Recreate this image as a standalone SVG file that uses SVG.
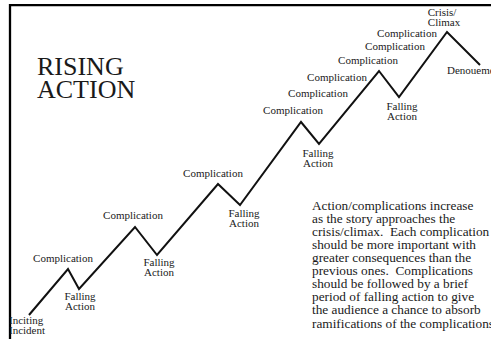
<svg xmlns="http://www.w3.org/2000/svg" width="491" height="339" viewBox="0 0 491 339">
<style>
text{fill:#1a1a1a}
.lbl{font-size:11px;text-anchor:middle}
.title{font-size:26px}
.para{font-size:13.3px}
.frame{stroke:#000;stroke-width:2.3;fill:none}
.plot{stroke:#111;stroke-width:2;fill:none;stroke-linejoin:miter}
</style>
<rect x="0" y="0" width="491" height="339" fill="#fff"/>
<g id="frame">
<path class="frame" d="M10,339 V5.2 H491"/>
</g>
<g id="title">
<text class="title" font-family="Liberation Serif" x="37" y="75">RISING</text>
<text class="title" font-family="Liberation Serif" x="37" y="98">ACTION</text>
</g>
<g id="connectors">
<polyline class="plot" points="29,315 68,269 79,289 135,227 157,255 218,184 240,205 301,122 319,144 379,71 399,97 447,32 480,65"/>
</g>
<g id="inciting">
<text class="lbl" font-family="Liberation Serif" x="9" y="324" style="text-anchor:start">Inciting</text>
<text class="lbl" font-family="Liberation Serif" x="9" y="334" style="text-anchor:start">Incident</text>
</g>
<g id="comp1"><text class="lbl" font-family="Liberation Serif" x="63" y="262">Complication</text></g>
<g id="fall1"><text class="lbl" font-family="Liberation Serif" x="80" y="300">Falling</text><text class="lbl" font-family="Liberation Serif" x="80" y="310">Action</text></g>
<g id="comp2"><text class="lbl" font-family="Liberation Serif" x="133" y="219">Complication</text></g>
<g id="fall2"><text class="lbl" font-family="Liberation Serif" x="159" y="266">Falling</text><text class="lbl" font-family="Liberation Serif" x="159" y="276">Action</text></g>
<g id="comp3"><text class="lbl" font-family="Liberation Serif" x="213" y="177">Complication</text></g>
<g id="fall3"><text class="lbl" font-family="Liberation Serif" x="244" y="217">Falling</text><text class="lbl" font-family="Liberation Serif" x="244" y="227">Action</text></g>
<g id="comp4"><text class="lbl" font-family="Liberation Serif" x="293" y="114">Complication</text></g>
<g id="comp5"><text class="lbl" font-family="Liberation Serif" x="318" y="97">Complication</text></g>
<g id="comp6"><text class="lbl" font-family="Liberation Serif" x="337" y="81">Complication</text></g>
<g id="fall4"><text class="lbl" font-family="Liberation Serif" x="318" y="157">Falling</text><text class="lbl" font-family="Liberation Serif" x="318" y="167">Action</text></g>
<g id="comp7"><text class="lbl" font-family="Liberation Serif" x="368" y="64">Complication</text></g>
<g id="comp8"><text class="lbl" font-family="Liberation Serif" x="395" y="50">Complication</text></g>
<g id="comp9"><text class="lbl" font-family="Liberation Serif" x="407" y="37">Complication</text></g>
<g id="fall5"><text class="lbl" font-family="Liberation Serif" x="402" y="110">Falling</text><text class="lbl" font-family="Liberation Serif" x="402" y="120">Action</text></g>
<g id="climax"><text class="lbl" font-family="Liberation Serif" x="442" y="16">Crisis/</text><text class="lbl" font-family="Liberation Serif" x="444" y="26">Climax</text></g>
<g id="denouement"><text class="lbl" font-family="Liberation Serif" x="447" y="74" style="text-anchor:start">Denouement</text></g>
<g id="note">
<text class="para" font-family="Liberation Serif" x="312" y="210">Action/complications increase</text>
<text class="para" font-family="Liberation Serif" x="312" y="223">as the story approaches the</text>
<text class="para" font-family="Liberation Serif" x="312" y="236" xml:space="preserve">crisis/climax.  Each complication</text>
<text class="para" font-family="Liberation Serif" x="312" y="249">should be more important with</text>
<text class="para" font-family="Liberation Serif" x="312" y="262">greater consequences than the</text>
<text class="para" font-family="Liberation Serif" x="312" y="275" xml:space="preserve">previous ones.  Complications</text>
<text class="para" font-family="Liberation Serif" x="312" y="288">should be followed by a brief</text>
<text class="para" font-family="Liberation Serif" x="312" y="301">period of falling action to give</text>
<text class="para" font-family="Liberation Serif" x="312" y="314">the audience a chance to absorb</text>
<text class="para" font-family="Liberation Serif" x="312" y="328">ramifications of the complications</text>
</g>
</svg>
